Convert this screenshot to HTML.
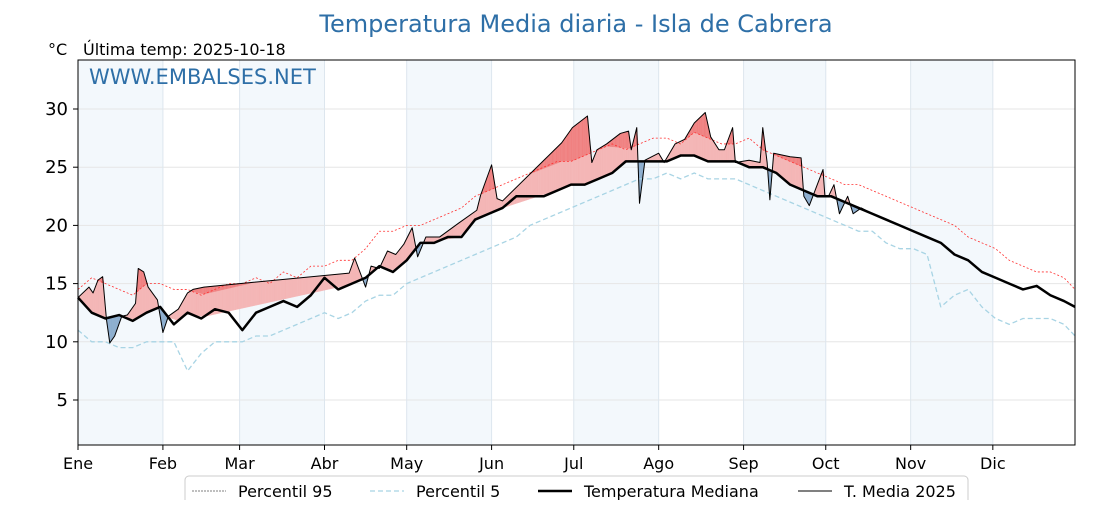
<!DOCTYPE html>
<html><head><meta charset="utf-8"><style>
body{margin:0;background:#fff;font-family:"Liberation Sans","DejaVu Sans",sans-serif}
</style></head><body>
<svg id="c" width="1120" height="500" xmlns="http://www.w3.org/2000/svg" font-family="DejaVu Sans, Liberation Sans, sans-serif">
<text x="576" y="32" text-anchor="middle" font-size="24" fill="#2e6fa7">Temperatura Media diaria - Isla de Cabrera</text>
<text x="48" y="55" font-size="16" fill="#000">°C</text>
<text x="83" y="55" font-size="16" fill="#000">Última temp: 2025-10-18</text>
<g id="plot"></g>
</svg>
<script>
const days=[0,5,10,15,20,25,30,35,40,45,50,55,60,65,70,75,80,85,90,95,100,105,110,115,120,125,130,135,140,145,150,155,160,165,170,175,180,185,190,195,200,205,210,215,220,225,230,235,240,245,250,255,260,265,270,275,280,285,290,295,300,305,310,315,320,325,330,335,340,345,350,355,360,364];
const median=[13.8,12.5,12,12.3,11.8,12.5,13,11.5,12.5,12,12.8,12.5,11,12.5,13,13.5,13,14,15.5,14.5,15,15.5,16.5,16,17,18.5,18.5,19,19,20.5,21,21.5,22.5,22.5,22.5,23,23.5,23.5,24,24.5,25.5,25.5,25.5,25.5,26,26,25.5,25.5,25.5,25,25,24.5,23.5,23,22.5,22.5,22,21.5,21,20.5,20,19.5,19,18.5,17.5,17,16,15.5,15,14.5,14.8,14,13.5,13];
const p95=[14.5,15.5,15,14.5,14,15,15,14.5,14.5,14,14.5,15,15,15.5,15,16,15.5,16.5,16.5,17,17,18,19.5,19.5,20,20,20.5,21,21.5,22.5,23,23.5,24,24.5,25,25.5,25.5,26,26.5,27,26.5,27,27.5,27.5,27,28,27.5,27,27,27.5,26.5,26,25.5,25,24.5,24,23.5,23.5,23,22.5,22,21.5,21,20.5,20,19,18.5,18,17,16.5,16,16,15.5,14.5];
const p5=[11,10,10,9.5,9.5,10,10,10,7.5,9,10,10,10,10.5,10.5,11,11.5,12,12.5,12,12.5,13.5,14,14,15,15.5,16,16.5,17,17.5,18,18.5,19,20,20.5,21,21.5,22,22.5,23,23.5,24,24,24.5,24,24.5,24,24,24,23.5,23,22.5,22,21.5,21,20.5,20,19.5,19.5,18.5,18,18,17.5,13,14,14.5,13,12,11.5,12,12,12,11.5,10.5];
const tDays=[0,4,5.5,7.3,9,10.4,11.6,13.4,16,18,21,22,24,25.6,29,31,33,36.6,40,42,46,99,101,105,107,110,113,116,119,122,124,127,132,139,145.6,147,151,153,155,176.6,180.5,186,187.6,189.5,193,198,201,202,204,205,207,212,214,218,221.5,225,229,231,234,236,239,240,245,249,250,251.6,252.6,254,260,264,265,267,272,272.7,274,276,278,281,283,286,290];
const t2025=[13.8,14.7,14.2,15.3,15.6,11.9,9.9,10.5,12.2,12.3,13.3,16.3,16,14.7,13.6,10.8,12.2,12.8,14.2,14.5,14.7,15.9,17.2,14.7,16.5,16.3,17.8,17.5,18.4,19.8,17.3,19,19,20.2,21.3,22.6,25.2,22.3,22.1,27.1,28.4,29.4,25.4,26.5,27,27.9,28.1,26.5,28.4,21.9,25.6,26.2,25.4,27,27.4,28.8,29.7,27.6,26.5,26.5,28.4,25.4,25.6,25.4,28.4,25.4,22.2,26.2,25.9,25.8,22.5,21.7,24.8,22.5,22.5,23.5,21,22.5,21,21.5,21];
const months=["Ene","Feb","Mar","Abr","May","Jun","Jul","Ago","Sep","Oct","Nov","Dic"];
const monthStart=[0,31,59,90,120,151,181,212,243,273,304,334];
const yTicks=[5,10,15,20,25,30];
const X0=78,X1=1075,Y0=60,Y1=445;
const xs=d=>X0+d*(X1-X0)/364;
const ys=v=>400-(v-5)*11.64;
const NS="http://www.w3.org/2000/svg";
const g=document.getElementById('plot');
function mk(t,a){const e=document.createElementNS(NS,t);for(const k in a)e.setAttribute(k,a[k]);g.appendChild(e);return e;}
function interp(dd,vv,d){if(d<=dd[0])return vv[0];for(let i=1;i<dd.length;i++){if(d<=dd[i]){const f=(d-dd[i-1])/(dd[i]-dd[i-1]);return vv[i-1]+f*(vv[i]-vv[i-1]);}}return vv[vv.length-1];}
for(let i=0;i<12;i+=2){const s=monthStart[i],e=monthStart[i+1];
const r=mk('rect',{x:xs(s),y:Y0,width:xs(e)-xs(s),height:Y1-Y0,fill:'#f3f8fc'});
}
yTicks.forEach(v=>{const l=mk('line',{x1:X0,x2:X1,y1:ys(v),y2:ys(v),stroke:'#e6e6e6','stroke-width':1});

const t=mk('text',{x:X0-10,y:ys(v)+6,'text-anchor':'end','font-size':18});t.textContent=v;

mk('line',{x1:X0-5,x2:X0,y1:ys(v),y2:ys(v),stroke:'#000'});});
monthStart.forEach((d,i)=>{const l=mk('line',{x1:xs(d),x2:xs(d),y1:Y0,y2:Y1,stroke:'#dde6ee','stroke-width':1});

mk('line',{x1:xs(d),x2:xs(d),y1:Y1,y2:Y1+5,stroke:'#000'});
const t=mk('text',{x:xs(d),y:Y1+24,'text-anchor':'middle','font-size':16});t.textContent=months[i];
});
// fills: reference curves sampled at the 2025 dates (linear between them, like fill_between)
const mT=tDays.map(d=>interp(days,median,d));
const qT=tDays.map(d=>interp(days,p95,d));
const last=tDays[tDays.length-1];
for(let d=0;d<last;d+=0.5){const d2=d+0.5;
const a1=interp(tDays,t2025,d),a2=interp(tDays,t2025,d2),m1=interp(tDays,mT,d),m2=interp(tDays,mT,d2),q1=interp(tDays,qT,d),q2=interp(tDays,qT,d2);
const above=(a1+a2)>(m1+m2);
const p=mk('polygon',{points:`${xs(d)},${ys(a1)} ${xs(d2)},${ys(a2)} ${xs(d2)},${ys(m2)} ${xs(d)},${ys(m1)}`,fill:above?'#f4b6b6':'#8eafcf',stroke:above?'#f4b6b6':'#8eafcf','stroke-width':0.4});

if(a1>q1||a2>q2){const h=mk('polygon',{points:`${xs(d)},${ys(Math.max(a1,q1))} ${xs(d2)},${ys(Math.max(a2,q2))} ${xs(d2)},${ys(q2)} ${xs(d)},${ys(q1)}`,fill:'#f08080',stroke:'#f08080','stroke-width':0.4});
}}
function line(dd,vv,attrs,name){const pts=dd.map((d,i)=>xs(d)+','+ys(vv[i])).join(' ');const p=mk('polyline',Object.assign({points:pts,fill:'none','stroke-linejoin':'round'},attrs));
}
line(days,p95,{stroke:'#ff3030','stroke-width':0.8,'stroke-dasharray':'2,2'},'p95-line');
line(days,p5,{stroke:'#a8d4e4','stroke-width':1.3,'stroke-dasharray':'5,3'},'p5-line');
line(days,median,{stroke:'#000','stroke-width':2.5},'median-line');
line(tDays,t2025,{stroke:'#000','stroke-width':1},'t2025-line');
mk('rect',{x:X0,y:Y0,width:X1-X0,height:Y1-Y0,fill:'none',stroke:'#000'});
const w=mk('text',{x:89,y:84,'font-size':21,fill:'#2e6fa7'});w.textContent='WWW.EMBALSES.NET';

const lg=mk('rect',{x:185,y:476,width:783,height:40,rx:4,fill:'#fff',stroke:'#ccc'});

const items=[["Percentil 95",192,{stroke:'#555','stroke-width':0.8,'stroke-dasharray':'2,1'}],["Percentil 5",370,{stroke:'#a8d4e4','stroke-width':1.3,'stroke-dasharray':'5,3'}],["Temperatura Mediana",538,{stroke:'#000','stroke-width':2.5}],["T. Media 2025",798,{stroke:'#000','stroke-width':1}]];
items.forEach(it=>{const l=mk('line',Object.assign({x1:it[1],x2:it[1]+34,y1:491,y2:491},it[2]));

const t=mk('text',{x:it[1]+46,y:497,'font-size':16});t.textContent=it[0];
});
</script>
</body></html>
